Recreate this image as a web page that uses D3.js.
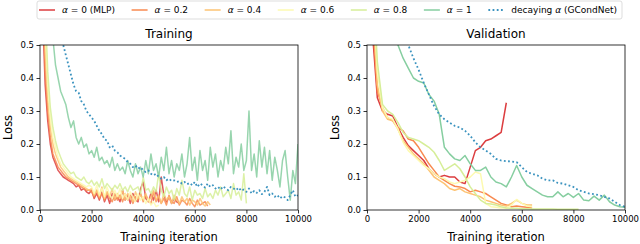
<!DOCTYPE html>
<html>
<head>
<meta charset="utf-8">
<script src="https://cdn.jsdelivr.net/npm/d3@7"></script>
<style>
body { margin: 0; background: #fff; }
svg { font-family: "DejaVu Sans", sans-serif; }
</style>
</head>
<body>
<div id="chart"></div>
<script>
var width = 640,
    height = 244;

// legend labels / colours (alpha part is drawn italic)
var seriesLabels = [
  ["α", " = 0 (MLP)"],
  ["α", " = 0.2"],
  ["α", " = 0.4"],
  ["α", " = 0.6"],
  ["α", " = 0.8"],
  ["α", " = 1"],
  ["decaying ", "α", " (GCondNet)"]
];
var colors = ["#dc3d3f", "#f88a50", "#fdc373", "#fdfab0", "#d6ee98", "#86cea0", "#3b93bf"];

var xTicks = [0, 2000, 4000, 6000, 8000, 10000];
var yTicks = [0, 0.1, 0.2, 0.3, 0.4, 0.5];

// training loss, one value every 100 iterations
var trainStep = 100;
var trainA0 = [1.2, 0.6, 0.38, 0.27, 0.2, 0.16, 0.14, 0.12, 0.11, 0.1,
  0.095, 0.09, 0.085, 0.08, 0.07, 0.075, 0.06, 0.065, 0.055, 0.05,
  0.06, 0.035, 0.05, 0.03, 0.055, 0.025, 0.045, 0.02, 0.05, 0.03,
  0.04, 0.025, 0.06, 0.03, 0.045, 0.02, 0.05, 0.03, 0.025, 0.065,
  0.085, 0.035, 0.025, 0.05, 0.03, 0.06, 0.025, 0.1, 0.045, 0.025,
  0.04, 0.02, 0.035, 0.025, 0.02];
var trainA02 = [1.3, 0.7, 0.42, 0.3, 0.22, 0.17, 0.15, 0.13, 0.12, 0.11,
  0.1, 0.095, 0.09, 0.085, 0.08, 0.075, 0.07, 0.065, 0.06, 0.06,
  0.055, 0.04, 0.06, 0.035, 0.05, 0.03, 0.055, 0.035, 0.025, 0.05,
  0.03, 0.045, 0.025, 0.05, 0.03, 0.045, 0.02, 0.04, 0.03, 0.05,
  0.025, 0.045, 0.03, 0.02, 0.055, 0.025, 0.04, 0.02, 0.035, 0.015,
  0.045, 0.025, 0.02, 0.04, 0.015, 0.03, 0.025, 0.015, 0.035, 0.02,
  0.01, 0.03, 0.015, 0.02, 0.025, 0.012];
var trainA04 = [1.4, 0.8, 0.48, 0.34, 0.25, 0.2, 0.17, 0.15, 0.13, 0.12,
  0.11, 0.1, 0.095, 0.09, 0.085, 0.08, 0.075, 0.07, 0.065, 0.06,
  0.065, 0.045, 0.06, 0.04, 0.07, 0.035, 0.055, 0.04, 0.065, 0.03,
  0.05, 0.035, 0.06, 0.03, 0.05, 0.04, 0.025, 0.055, 0.035, 0.045,
  0.03, 0.05, 0.025, 0.04, 0.06, 0.03, 0.045, 0.02, 0.05, 0.03,
  0.04, 0.02, 0.045, 0.03, 0.02, 0.04, 0.025, 0.035, 0.015, 0.03,
  0.025, 0.015, 0.035, 0.02, 0.012, 0.025, 0.015];
var trainA06 = [1.5, 0.9, 0.55, 0.38, 0.28, 0.22, 0.19, 0.16, 0.14, 0.13,
  0.12, 0.11, 0.1, 0.095, 0.09, 0.085, 0.08, 0.075, 0.07, 0.075,
  0.07, 0.05, 0.075, 0.045, 0.065, 0.04, 0.07, 0.045, 0.035, 0.06,
  0.04, 0.065, 0.035, 0.05, 0.03, 0.055, 0.04, 0.025, 0.05, 0.03,
  0.04, 0.02, 0.035, 0.015, 0.025, 0.01, 0.015];
var trainA08 = [1.6, 1.0, 0.62, 0.42, 0.31, 0.25, 0.21, 0.18, 0.16, 0.14,
  0.13, 0.12, 0.11, 0.115, 0.1, 0.095, 0.09, 0.1, 0.085, 0.08,
  0.09, 0.075, 0.085, 0.07, 0.095, 0.065, 0.08, 0.07, 0.06, 0.075,
  0.065, 0.08, 0.06, 0.07, 0.055, 0.075, 0.06, 0.065, 0.07, 0.05,
  0.1, 0.06, 0.065, 0.05, 0.07, 0.055, 0.11, 0.06, 0.04, 0.07,
  0.05, 0.06, 0.03, 0.065, 0.045, 0.09, 0.05, 0.04, 0.07, 0.03,
  0.06, 0.045, 0.05, 0.035, 0.065, 0.04, 0.05, 0.035, 0.06, 0.045,
  0.07, 0.04, 0.05, 0.06, 0.035, 0.08, 0.045, 0.055, 0.03, 0.11,
  0.02];
var trainA1 = [2, 1.5, 1.1, 0.85, 0.65, 0.52, 0.44, 0.40, 0.36, 0.34,
  0.32, 0.28, 0.25, 0.27, 0.22, 0.20, 0.22, 0.19, 0.2, 0.17,
  0.18, 0.16, 0.19, 0.15, 0.16, 0.14, 0.15, 0.13, 0.16, 0.12,
  0.14, 0.12, 0.13, 0.11, 0.15, 0.12, 0.10, 0.14, 0.11, 0.13,
  0.10, 0.15, 0.11, 0.17, 0.12, 0.14, 0.10, 0.16, 0.12, 0.19,
  0.11, 0.15, 0.10, 0.14, 0.12, 0.17, 0.10, 0.14, 0.22, 0.12,
  0.16, 0.09, 0.18, 0.12, 0.15, 0.09, 0.19, 0.13, 0.17, 0.10,
  0.15, 0.12, 0.19, 0.14, 0.24, 0.11, 0.16, 0.13, 0.20, 0.12,
  0.15, 0.30, 0.12, 0.17, 0.10, 0.21, 0.13, 0.19, 0.11, 0.18,
  0.09, 0.16, 0.12, 0.07, 0.15, 0.18, 0.10, 0.03, 0.12, 0.08,
  0.20];
var trainDecay = [1.5, 1.2, 1.0, 0.85, 0.75, 0.66, 0.6, 0.55, 0.52, 0.5,
  0.47, 0.44, 0.41, 0.38, 0.36, 0.355, 0.33, 0.32, 0.30, 0.29,
  0.28, 0.27, 0.255, 0.24, 0.23, 0.215, 0.21, 0.19, 0.195, 0.18,
  0.175, 0.165, 0.16, 0.155, 0.145, 0.14, 0.13, 0.135, 0.125, 0.13,
  0.12, 0.115, 0.12, 0.11, 0.105, 0.11, 0.10, 0.095, 0.1, 0.09,
  0.095, 0.088, 0.09, 0.085, 0.087, 0.08, 0.085, 0.078, 0.082, 0.075,
  0.085, 0.07, 0.08, 0.075, 0.068, 0.08, 0.07, 0.075, 0.065, 0.07,
  0.062, 0.072, 0.065, 0.06, 0.07, 0.065, 0.06, 0.068, 0.058, 0.062,
  0.055, 0.065, 0.05, 0.058, 0.052, 0.06, 0.048, 0.055, 0.07, 0.045,
  0.05, 0.04, 0.045, 0.035, 0.042, 0.038, 0.03, 0.045, 0.06, 0.04,
  0.045];

// validation loss, one value every 200 iterations
var valStep = 200;
var valA0 = [1.2, 0.55, 0.34, 0.30, 0.29, 0.285, 0.25, 0.22, 0.195, 0.18,
  0.165, 0.15, 0.125, 0.11, 0.10, 0.105, 0.10, 0.10, 0.085, 0.08,
  0.13, 0.18, 0.19, 0.21, 0.215, 0.225, 0.235, 0.325];
var valA02 = [1.2, 0.6, 0.36, 0.31, 0.28, 0.27, 0.25, 0.24, 0.215, 0.21,
  0.19, 0.165, 0.14, 0.12, 0.10, 0.09, 0.08, 0.072, 0.07, 0.065,
  0.055, 0.06, 0.055, 0.05, 0.04, 0.03, 0.02, 0.015, 0.01, 0.012,
  0.01, 0.008, 0.006];
var valA04 = [1.3, 0.65, 0.38, 0.30, 0.275, 0.27, 0.245, 0.21, 0.19, 0.17,
  0.155, 0.14, 0.12, 0.1, 0.09, 0.08, 0.065, 0.06, 0.065, 0.055,
  0.05, 0.045, 0.04, 0.03, 0.025, 0.02, 0.015, 0.012, 0.02, 0.03,
  0.02, 0.015, 0.015];
var valA06 = [1.4, 0.7, 0.42, 0.31, 0.28, 0.275, 0.245, 0.205, 0.18, 0.165,
  0.15, 0.135, 0.125, 0.11, 0.1, 0.095, 0.085, 0.08, 0.085, 0.09,
  0.1, 0.115, 0.11, 0.02, 0.01, 0.008, 0.006, 0.006, 0.015, 0.032,
  0.02, 0.012, 0.01];
var valA08 = [1.5, 0.75, 0.45, 0.32, 0.3, 0.29, 0.265, 0.235, 0.22, 0.215,
  0.21, 0.2, 0.19, 0.175, 0.15, 0.12, 0.13, 0.14, 0.125, 0.1,
  0.07, 0.05, 0.03, 0.02, 0.018, 0.015, 0.01, 0.006, 0.005, 0.005,
  0.004, 0.004, 0.003, 0.003, 0.003, 0.003, 0.003, 0.002, 0.002, 0.002,
  0.002, 0.002];
var valA1 = [2, 1.5, 1.1, 0.85, 0.68, 0.56, 0.5, 0.46, 0.43, 0.40,
  0.39, 0.385, 0.35, 0.33, 0.29, 0.19, 0.17, 0.155, 0.15, 0.165,
  0.14, 0.12, 0.12, 0.13, 0.1, 0.085, 0.08, 0.07, 0.1, 0.135,
  0.1, 0.075, 0.065, 0.055, 0.045, 0.04, 0.04, 0.055, 0.04, 0.05,
  0.038, 0.05, 0.03, 0.028, 0.042, 0.03, 0.045, 0.025, 0.015, 0.01,
  0.008];
var valDecay = [2.5, 2, 1.6, 1.3, 1.05, 0.85, 0.7, 0.58, 0.5, 0.46,
  0.425, 0.385, 0.35, 0.315, 0.29, 0.275, 0.265, 0.255, 0.25, 0.24,
  0.225, 0.205, 0.19, 0.18, 0.17, 0.155, 0.15, 0.148, 0.147, 0.145,
  0.13, 0.115, 0.11, 0.105, 0.095, 0.09, 0.09, 0.082, 0.08, 0.075,
  0.07, 0.06, 0.055, 0.05, 0.048, 0.045, 0.04, 0.035, 0.025, 0.015,
  0.01];

var panels = [
  {title: "Training", left: 40, step: trainStep, opacity: 0.85,
   series: [trainA0, trainA02, trainA04, trainA06, trainA08, trainA1, trainDecay]},
  {title: "Validation", left: 367, step: valStep, opacity: 1,
   series: [valA0, valA02, valA04, valA06, valA08, valA1, valDecay]}
];

var plotW = 258, plotTop = 45, plotBottom = 210;

var svg = d3.select("#chart").append("svg")
    .attr("width", width)
    .attr("height", height);

panels.forEach(function(p, pi) {
  var x = d3.scaleLinear().domain([0, 10000]).range([p.left, p.left + plotW]);
  var y = d3.scaleLinear().domain([0, 0.5]).range([plotBottom, plotTop]);

  svg.append("clipPath").attr("id", "clip" + pi)
    .append("rect")
    .attr("x", p.left).attr("y", plotTop)
    .attr("width", plotW).attr("height", plotBottom - plotTop);

  var line = d3.line()
      .x(function(d, i) { return x(i * p.step); })
      .y(function(d) { return y(d); });

  var g = svg.append("g").attr("clip-path", "url(#clip" + pi + ")");
  p.series.forEach(function(s, si) {
    var path = g.append("path")
      .datum(s)
      .attr("d", line)
      .attr("fill", "none")
      .attr("stroke", colors[si])
      .attr("stroke-width", 1.5)
      .attr("stroke-linejoin", "round");
    if (si == 6) {
      path.attr("stroke-width", 1.8).attr("stroke-dasharray", "1.8,2.4");
    } else {
      path.attr("stroke-opacity", p.opacity);
    }
  });

  // frame
  svg.append("rect")
    .attr("x", p.left).attr("y", plotTop)
    .attr("width", plotW).attr("height", plotBottom - plotTop)
    .attr("fill", "none").attr("stroke", "#000").attr("stroke-width", 0.8);

  var xAxis = svg.append("g")
    .attr("transform", "translate(0," + plotBottom + ")")
    .call(d3.axisBottom(x).tickValues(xTicks).tickSizeOuter(0).tickSize(3.5).tickPadding(2.5).tickFormat(d3.format("d")));
  var yAxis = svg.append("g")
    .attr("transform", "translate(" + p.left + ",0)")
    .call(d3.axisLeft(y).tickValues(yTicks).tickSizeOuter(0).tickSize(3.5).tickPadding(2.5).tickFormat(d3.format(".1f")));
  [xAxis, yAxis].forEach(function(a) {
    a.select(".domain").remove();
    a.selectAll("line").attr("stroke", "#000").attr("stroke-width", 0.8);
    a.selectAll("text").attr("fill", "#000")
      .style("font-family", "DejaVu Sans").style("font-size", "8.5px");
  });

  svg.append("text")
    .attr("x", p.left + plotW / 2).attr("y", 38)
    .attr("text-anchor", "middle")
    .style("font-size", "12px")
    .text(p.title);

  svg.append("text")
    .attr("x", p.left + plotW / 2).attr("y", 241)
    .attr("text-anchor", "middle")
    .style("font-size", "11.5px")
    .text("Training iteration");

  svg.append("text")
    .attr("transform", "translate(" + (p.left - 28) + "," + ((plotTop + plotBottom) / 2) + ") rotate(-90)")
    .attr("text-anchor", "middle")
    .style("font-size", "11.5px")
    .text("Loss");
});

// legend in one row, spread across the box
var legX0 = 37, legX1 = 622, legY = 1, legH = 18;
var handleLen = 16, handlePad = 7;
var leg = svg.append("g");
leg.append("rect")
  .attr("x", legX0).attr("y", legY)
  .attr("width", legX1 - legX0).attr("height", legH)
  .attr("rx", 2)
  .attr("fill", "#fff").attr("stroke", "#d4d4d4").attr("stroke-width", 0.8);

var items = [];
var totalW = 0;
seriesLabels.forEach(function(parts, i) {
  var t = leg.append("text")
    .attr("y", legY + legH / 2 + 3)
    .style("font-size", "9px");
  parts.forEach(function(part) {
    var ts = t.append("tspan").text(part);
    if (part == "α") ts.style("font-style", "italic");
  });
  var w = t.node().getComputedTextLength();
  items.push({text: t, w: w});
  totalW += handleLen + handlePad + w;
});
var gap = (legX1 - 5 - (legX0 + 2) - totalW) / (items.length - 1);
var cx = legX0 + 2;
items.forEach(function(it, i) {
  var hl = leg.append("line")
    .attr("x1", cx).attr("x2", cx + handleLen)
    .attr("y1", legY + legH / 2).attr("y2", legY + legH / 2)
    .attr("stroke", colors[i]).attr("stroke-width", 1.5);
  if (i == 6) hl.attr("stroke-width", 1.8).attr("stroke-dasharray", "1.8,2.4");
  it.text.attr("x", cx + handleLen + handlePad);
  cx += handleLen + handlePad + it.w + gap;
});
</script>
</body>
</html>
